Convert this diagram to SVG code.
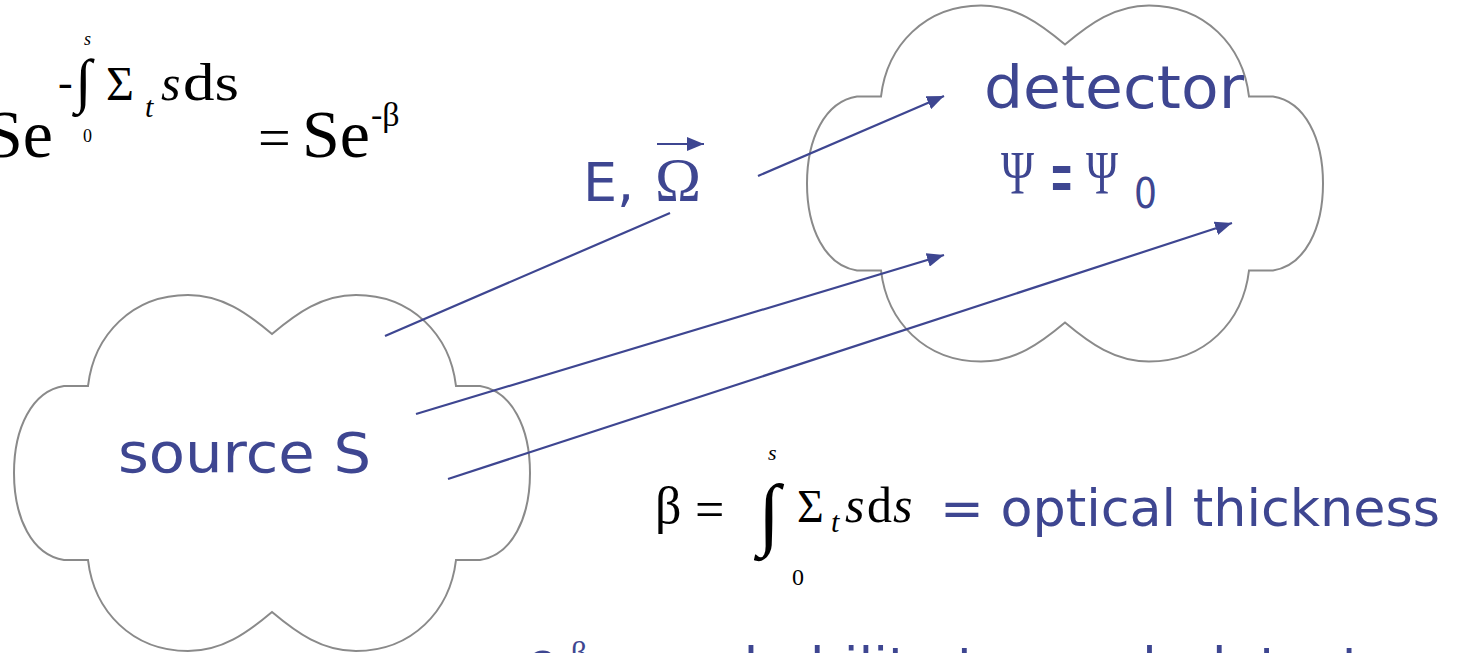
<svg xmlns="http://www.w3.org/2000/svg" width="1458" height="653" viewBox="0 0 1458 653">
<style>
.cloud{fill:#ffffff;stroke:#8a8a8a;stroke-width:2}
.blue{fill:#3e4691;font-family:"Comic Sans MS","DejaVu Sans",sans-serif}
.math{fill:#000000;font-family:"Liberation Serif","DejaVu Serif",serif}
.mblue{fill:#3e4691;font-family:"Liberation Serif","DejaVu Serif",serif}
.ray{stroke:#3e4691;stroke-width:2.2;fill:none}
</style>
<defs>
<path id="cloudShape" d="M0,-139 C-25,-160 -50,-178 -84,-178 C-140,-178 -178,-138 -184,-87 L-208,-87 C-240,-82 -258,-45 -258,0 C-258,45 -240,82 -208,87 L-184,87 C-178,138 -140,178 -84,178 C-50,178 -25,160 0,139 C25,160 50,178 84,178 C140,178 178,138 184,87 L208,87 C240,82 258,45 258,0 C258,-45 240,-82 208,-87 L184,-87 C178,-138 140,-178 84,-178 C50,-178 25,-160 0,-139 Z"/>
<marker id="arr" markerUnits="userSpaceOnUse" markerWidth="18" markerHeight="14" refX="17" refY="7" orient="auto">
<path d="M0,0 L17,7 L0,14 Z" fill="#3e4691"/>
</marker>
</defs>

<g id="formula-top">
<text class="math" x="-15" y="157" font-size="68">Se</text>
<text class="math" x="58" y="97" font-size="44">-</text>
<text class="math" x="75" y="101" font-size="60">∫</text>
<text class="math" x="84" y="45" font-size="18" font-style="italic">s</text>
<text class="math" x="83" y="142" font-size="18">0</text>
<text class="math" x="106" y="100" font-size="48">Σ</text>
<text class="math" x="145" y="117" font-size="30" font-style="italic">t</text>
<text class="math" x="161" y="100" font-size="50" font-style="italic">s</text>
<text class="math" x="183" y="100" font-size="52" textLength="56" lengthAdjust="spacingAndGlyphs">ds</text>
<text class="math" x="258" y="157" font-size="58">=</text>
<text class="math" x="302" y="157" font-size="68">Se</text>
<text class="math" x="371" y="126" font-size="34">-β</text>
</g>

<g id="source">
<use href="#cloudShape" class="cloud" transform="translate(272,473)"/>
<text class="blue" x="118" y="472" font-size="56" textLength="253" lengthAdjust="spacingAndGlyphs">source S</text>
</g>

<g id="detector">
<use href="#cloudShape" class="cloud" transform="translate(1065,183.5)"/>
<text class="blue" x="984" y="108" font-size="58" textLength="260" lengthAdjust="spacingAndGlyphs">detector</text>
<text class="mblue" x="1001" y="193" font-size="62" textLength="33" lengthAdjust="spacingAndGlyphs">Ψ</text>
<text class="blue" font-size="84" transform="translate(1050,204) scale(0.33,1)">=</text>
<text class="mblue" x="1086" y="193" font-size="62" textLength="32" lengthAdjust="spacingAndGlyphs">Ψ</text>
<text class="blue" x="1134" y="208" font-size="42" textLength="23" lengthAdjust="spacingAndGlyphs">0</text>
</g>

<g id="label-E-Omega">
<text class="blue" x="583" y="201" font-size="54">E,</text>
<text class="mblue" x="655" y="200" font-size="62">Ω</text>
<line class="ray" x1="657" y1="144" x2="704" y2="144" marker-end="url(#arr)"/>
</g>

<g id="connectors">
<line class="ray" x1="385" y1="336" x2="670" y2="213"/>
<line class="ray" x1="758" y1="176" x2="944" y2="96" marker-end="url(#arr)"/>
<line class="ray" x1="416" y1="414" x2="944" y2="255" marker-end="url(#arr)"/>
<line class="ray" x1="448" y1="479" x2="1232" y2="223" marker-end="url(#arr)"/>
</g>

<g id="formula-beta">
<text class="math" x="655" y="523" font-size="52">β</text>
<text class="math" x="695" y="527" font-size="52">=</text>
<text class="math" x="758" y="540" font-size="80">∫</text>
<text class="math" x="768" y="460" font-size="22" font-style="italic">s</text>
<text class="math" x="792" y="585" font-size="24">0</text>
<text class="math" x="797" y="522" font-size="46">Σ</text>
<text class="math" x="831" y="532" font-size="30" font-style="italic">t</text>
<text class="math" x="845" y="522" font-size="50" font-style="italic">s</text>
<text class="math" x="867" y="522" font-size="50">d</text>
<text class="math" x="893" y="522" font-size="50" font-style="italic">s</text>
<text class="blue" x="940" y="526" font-size="52" textLength="500" lengthAdjust="spacingAndGlyphs">= optical thickness</text>
</g>

<g id="formula-prob">
<text class="blue" x="526" y="679" font-size="52">e</text>
<text class="mblue" x="560" y="663" font-size="32">-β</text>
<text class="blue" x="657" y="682" font-size="48" textLength="760" lengthAdjust="spacingAndGlyphs">probability to reach detector</text>
</g>
</svg>
